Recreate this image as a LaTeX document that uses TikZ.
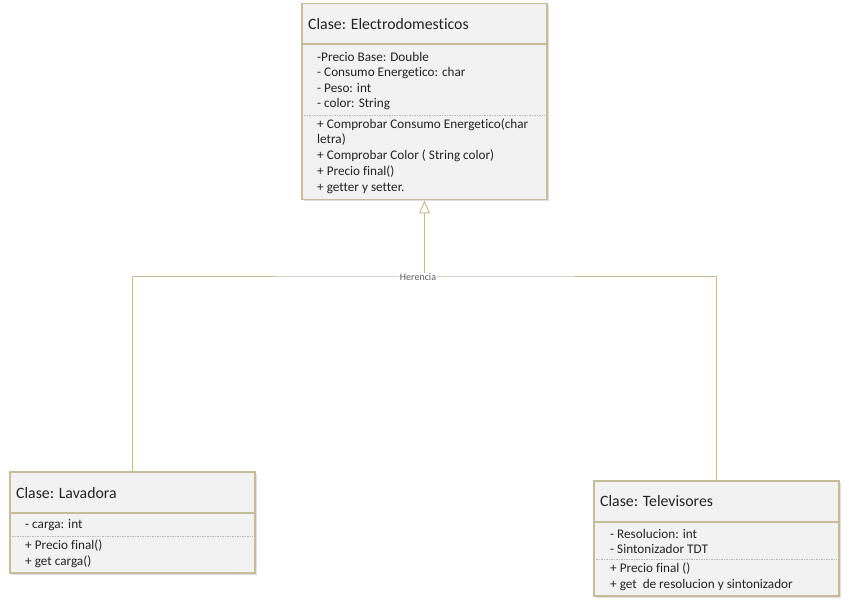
\documentclass[tikz,border=0pt]{standalone}
\usepackage{fontspec}
\setmainfont{Carlito}[Ligatures={NoCommon}]
\usetikzlibrary{arrows.meta,shadows}
\definecolor{umlborder}{RGB}{196,189,151}
\definecolor{umlfill}{RGB}{242,242,242}
\definecolor{umltext}{RGB}{35,35,35}
\definecolor{sepgray}{RGB}{185,185,185}
\definecolor{lblgray}{RGB}{90,90,90}
\begin{document}
\begin{tikzpicture}[x=1pt,y=-1pt,
  classbox/.style={draw=umlborder, line width=1.8pt, fill=umlfill,
    drop shadow={opacity=0.25, shadow xshift=2pt, shadow yshift=-2pt},
    inner sep=0pt, rectangle},
  hdr/.style={anchor=west, inner sep=0pt, font=\fontsize{15.8}{18}\selectfont, text=umltext},
  mem/.style={anchor=west, inner sep=0pt, font=\fontsize{13.2}{15}\selectfont, text=umltext},
  hline/.style={draw=umlborder, line width=1.8pt},
  sepline/.style={draw=sepgray, line width=0.6pt, dash pattern=on 1.5pt off 1pt},
  conn/.style={draw=umlborder, line width=1pt},
  lbl/.style={fill=white, inner sep=1pt, font=\fontsize{10}{12}\selectfont, text=lblgray}]
\useasboundingbox (0,0) rectangle (849,612);

% Electrodomesticos
\node[classbox, minimum width=245pt, minimum height=196pt] (electro) at (424.5,101.5) {};
\draw[hline] (302,44) -- (547,44);
\node[hdr] (eh) at (308,24) {Clase: Electrodomesticos};
\node[mem] (e1) at (317,57) {-Precio Base: Double};
\node[mem] (e2) at (317,73) {- Consumo Energetico: char};
\node[mem] (e3) at (317,88) {- Peso: int};
\node[mem] (e4) at (317,104) {- color: String};
\draw[sepline] (304,115) -- (545,115);
\node[mem] (e5) at (317,125) {+ Comprobar Consumo Energetico(char};
\node[mem] (e6) at (317,140) {letra)};
\node[mem] (e7) at (317,156) {+ Comprobar Color ( String color)};
\node[mem] (e8) at (317,172) {+ Precio final()};
\node[mem] (e9) at (317,188) {+ getter y setter.};

% Lavadora
\node[classbox, minimum width=245pt, minimum height=101pt] (lav) at (132.5,522.5) {};
\draw[hline] (10,513) -- (255,513);
\node[hdr] (lh) at (16,493) {Clase: Lavadora};
\node[mem] (l1) at (25,525) {- carga: int};
\draw[sepline] (12,536) -- (253,536);
\node[mem] (l2) at (25,546) {+ Precio final()};
\node[mem] (l3) at (25,562) {+ get carga()};

% Televisores
\node[classbox, minimum width=245pt, minimum height=115pt] (tv) at (716.5,538.5) {};
\draw[hline] (594,522) -- (839,522);
\node[hdr] (th) at (600,501) {Clase: Televisores};
\node[mem] (t1) at (610,534) {- Resolucion: int};
\node[mem] (t2) at (610,549) {- Sintonizador TDT};
\draw[sepline] (596,559) -- (837,559);
\node[mem] (t3) at (610,569) {+ Precio final ()};
\node[mem] (t4) at (610,585) {+ get\ \ de resolucion y sintonizador};

% Inheritance
\coordinate (junc) at (424.5,277);
\draw[conn] (lav.north) |- (junc) -| (tv.north);
\draw[conn, -{Triangle[open, length=13pt, width=11pt, fill=white]}] (junc) -- (electro.south);
\node[lbl] (her) at (418,277) {Herencia};
\end{tikzpicture}
\end{document}
